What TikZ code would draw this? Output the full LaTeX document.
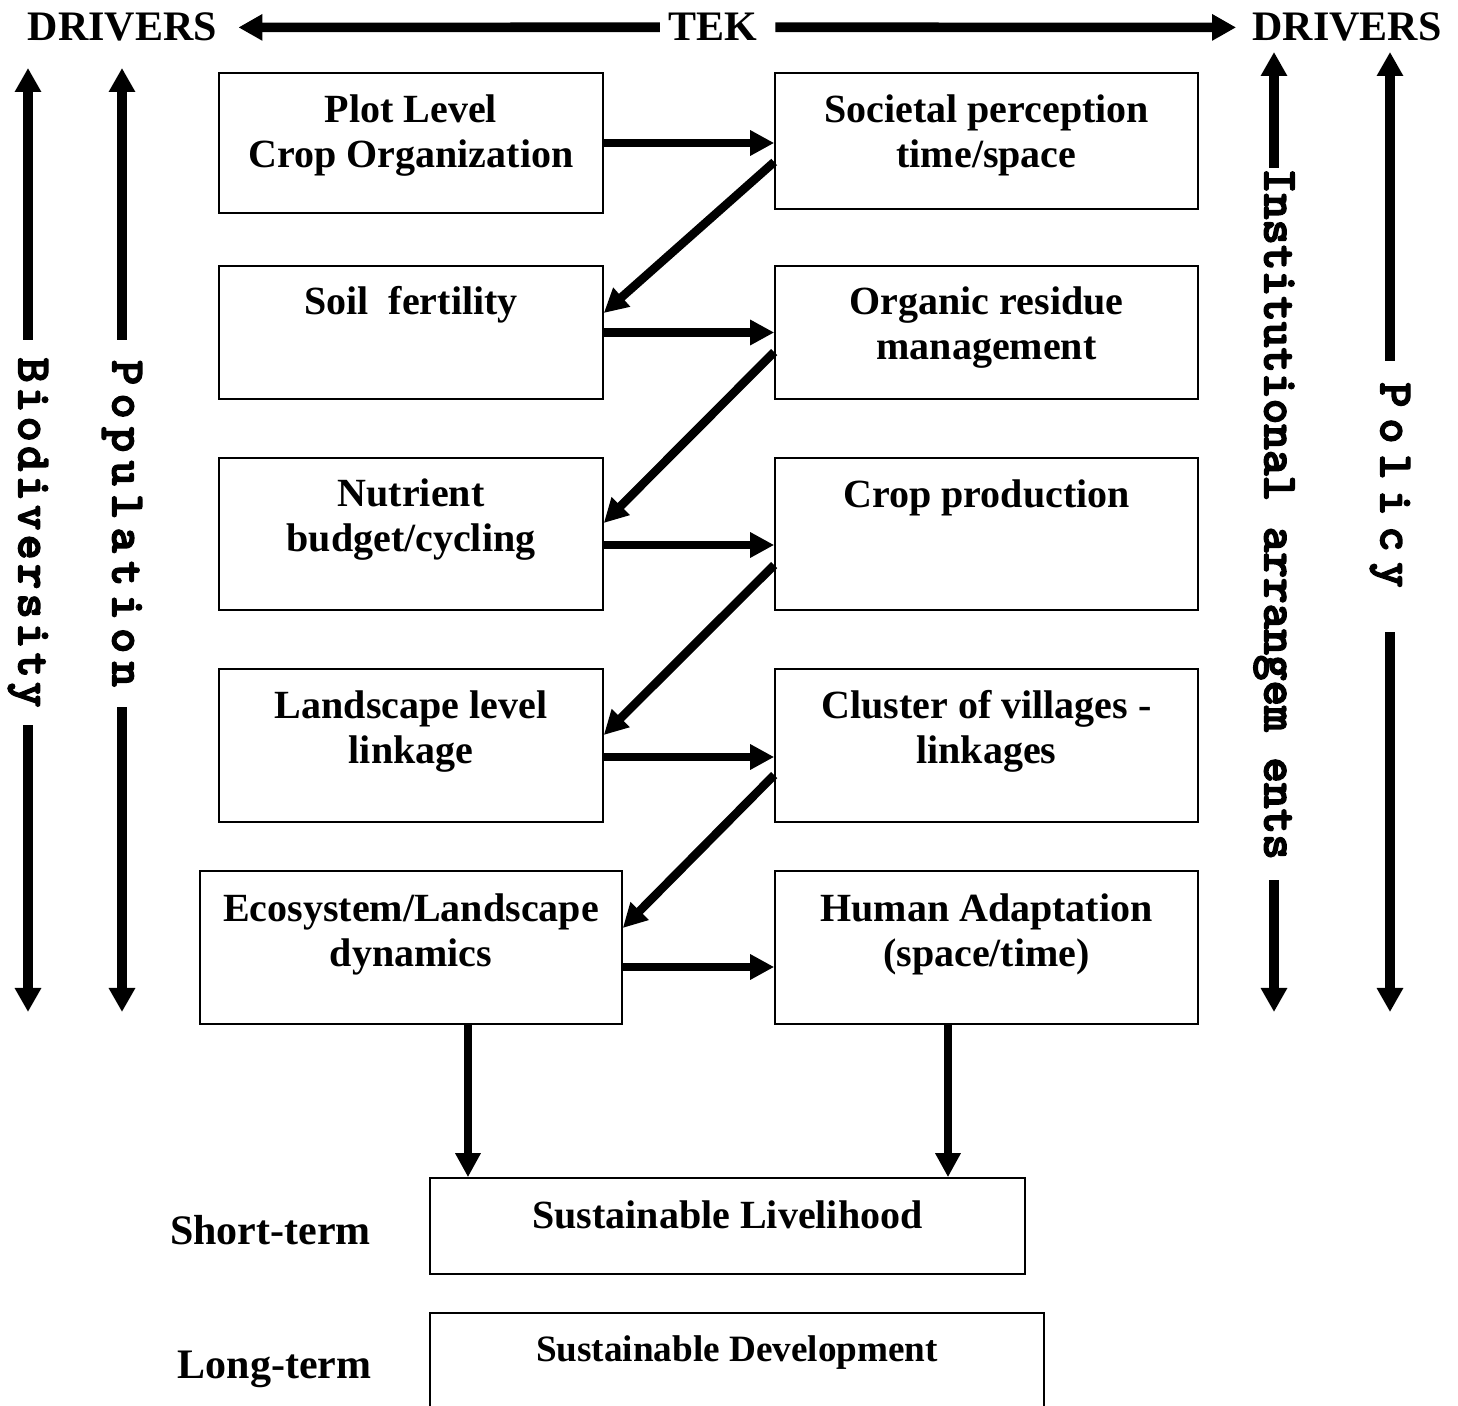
\documentclass[tikz,border=0pt]{standalone}
\usepackage{fontspec}
\setmainfont{Liberation Serif}
\newfontfamily\slabmono{lmmonolt10-bold.otf}[FakeBold=3]
\usetikzlibrary{arrows.meta,calc}
\makeatletter
\newcommand\spreadword[2]{\@tfor\sw@c:=#2\do{\makebox[#1]{\sw@c}}}
\makeatother
\newcommand\ml[1]{\begin{tabular}[t]{@{}c@{}}#1\end{tabular}}
\begin{document}
\begin{tikzpicture}[x=0.5pt,y=-0.5pt,
  box/.style={draw, line width=0.8pt, inner sep=0pt},
  lbl/.style={anchor=base, inner sep=0pt, font=\fontsize{20}{22.8}\selectfont\bfseries},
  toplbl/.style={anchor=base, inner sep=0pt, font=\fontsize{21}{21}\selectfont\bfseries},
  arr/.style={line width=4.3pt, -{Triangle[length=12pt,width=12pt]}},
  sidearr/.style={line width=4.8pt, -{Triangle[length=12pt,width=12.5pt]}},
  vtext/.style={rotate=-90, inner ysep=0pt, font=\fontsize{24}{24}\slabmono}]
\useasboundingbox (0,0) rectangle (1458,1406);

% boxes
\node[box, minimum width=192pt, minimum height=70pt]   (L1) at (411,143) {};
\node[box, minimum width=192pt, minimum height=66.5pt] (L2) at (411,332.5) {};
\node[box, minimum width=192pt, minimum height=76pt]   (L3) at (411,534) {};
\node[box, minimum width=192pt, minimum height=76.5pt] (L4) at (411,745.5) {};
\node[box, minimum width=211pt, minimum height=76.5pt] (L5) at (411,947.5) {};
\node[box, minimum width=211.5pt, minimum height=68pt]   (R1) at (986.5,141) {};
\node[box, minimum width=211.5pt, minimum height=66.5pt] (R2) at (986.5,332.5) {};
\node[box, minimum width=211.5pt, minimum height=76pt]   (R3) at (986.5,534) {};
\node[box, minimum width=211.5pt, minimum height=76.5pt] (R4) at (986.5,745.5) {};
\node[box, minimum width=211.5pt, minimum height=76.5pt] (R5) at (986.5,947.5) {};
\node[box, minimum width=297.5pt, minimum height=48pt]   (S1) at (727.5,1226) {};
\node[box, minimum width=307pt, minimum height=63.5pt]   (S2) at (737,1376.5) {};

% box texts
\node[lbl] (tL1) at ($(L1.north)+(0,50)$) {\ml{Plot Level\\Crop Organization}};
\node[lbl] (tR1) at ($(R1.north)+(0,50)$) {\ml{Societal perception\\time/space}};
\node[lbl] (tL2) at ($(L2.north)+(0,49)$) {Soil~ fertility};
\node[lbl] (tR2) at ($(R2.north)+(0,49)$) {\ml{Organic residue\\management}};
\node[lbl] (tL3) at ($(L3.north)+(0,49)$) {\ml{Nutrient\\budget/cycling}};
\node[lbl] (tR3) at ($(R3.north)+(0,50)$) {Crop production};
\node[lbl] (tL4) at ($(L4.north)+(0,50)$) {\ml{Landscape level\\linkage}};
\node[lbl] (tR4) at ($(R4.north)+(0,50)$) {\ml{Cluster of villages -\\linkages}};
\node[lbl] (tL5) at ($(L5.north)+(0,51)$) {\ml{Ecosystem/Landscape\\dynamics}};
\node[lbl] (tR5) at ($(R5.north)+(0,51)$) {\ml{Human Adaptation\\(space/time)}};
\node[lbl] (tS1) at ($(S1.north)+(0,51)$) {Sustainable Livelihood};
\node[lbl, font=\fontsize{18.6}{20}\selectfont\bfseries] (tS2) at ($(S2.north)+(0,49)$) {Sustainable Development};

\node[toplbl] (st) at (270.5,1244) {Short-term};
\node[toplbl] (lt) at (274.5,1378) {Long-term};

% horizontal arrows
\coordinate (a1) at (L1.east);
\coordinate (a2) at (L2.east);
\coordinate (a3) at ($(L3.east)+(0,11)$);
\coordinate (a4) at ($(L4.east)+(0,11.5)$);
\coordinate (a5) at ($(L5.east)+(0,19.5)$);
\draw[arr] (a1) -- (a1 -| R1.west);
\draw[arr] (a2) -- (a2 -| R2.west);
\draw[arr] (a3) -- (a3 -| R3.west);
\draw[arr] (a4) -- (a4 -| R4.west);
\draw[arr] (a5) -- (a5 -| R5.west);

% diagonal arrows
\draw[arr] ($(R1.west)+(0,21)$) -- ($(L2.east)+(0,-19.5)$);
\draw[arr] ($(R2.west)+(0,19.5)$) -- ($(L3.east)+(0,-11)$);
\draw[arr] ($(R3.west)+(0,31)$) -- ($(L4.east)+(0,-10.5)$);
\draw[arr] ($(R4.west)+(0,29.5)$) -- ($(L5.east)+(0,-19.5)$);

% down arrows
\coordinate (d1) at ($(L5.south)+(57,0)$);
\coordinate (d2) at ($(R5.south)+(-38.5,0)$);
\draw[arr] (d1) -- (d1 |- S1.north);
\draw[arr] (d2) -- (d2 |- S1.north);

% top row
\node[toplbl] (drvL) at (122.5,41) {DRIVERS};
\node[toplbl] (tek) at (712.5,41) {TEK};
\node[toplbl] (drvR) at (1347,41) {DRIVERS};
\draw[sidearr] ($(tek.west)+(-8,0)$) -- ($(drvL.east)+(21,0)$);
\draw[sidearr] ($(tek.east)+(18,0)$) -- ($(drvR.west)+(-16,0)$);

% side axes
\node[vtext, inner xsep=7.75pt] (bio) at (28,532.5) {\spreadword{14.75pt}{Biodiversity}};
\node[vtext, inner xsep=8pt] (pop) at (122,523.5) {\spreadword{16.75pt}{Population}};
\node[vtext, inner xsep=0pt, font=\fontsize{24.4}{24.4}\slabmono] (inst) at (1274,514) {Institutional arrangem ents};
\node[vtext, inner xsep=8pt] (pol) at (1390,485) {\spreadword{18pt}{Policy}};

\coordinate (bioT) at (28,68);   \coordinate (bioB) at (28,1012);
\coordinate (popT) at (122,68);  \coordinate (popB) at (122,1012);
\coordinate (instT) at (1274,52); \coordinate (instB) at (1274,1012);
\coordinate (polT) at (1390,52);  \coordinate (polB) at (1390,1012);
\draw[sidearr] (bio.west) -- (bioT);
\draw[sidearr] (bio.east) -- (bioB);
\draw[sidearr] (pop.west) -- (popT);
\draw[sidearr] (pop.east) -- (popB);
\draw[sidearr] (inst.west) -- (instT);
\draw[sidearr] ($(inst.east)+(0,20)$) -- (instB);
\draw[sidearr] (pol.west) -- (polT);
\draw[sidearr] ($(pol.east)+(0,23)$) -- (polB);
\end{tikzpicture}
\end{document}
